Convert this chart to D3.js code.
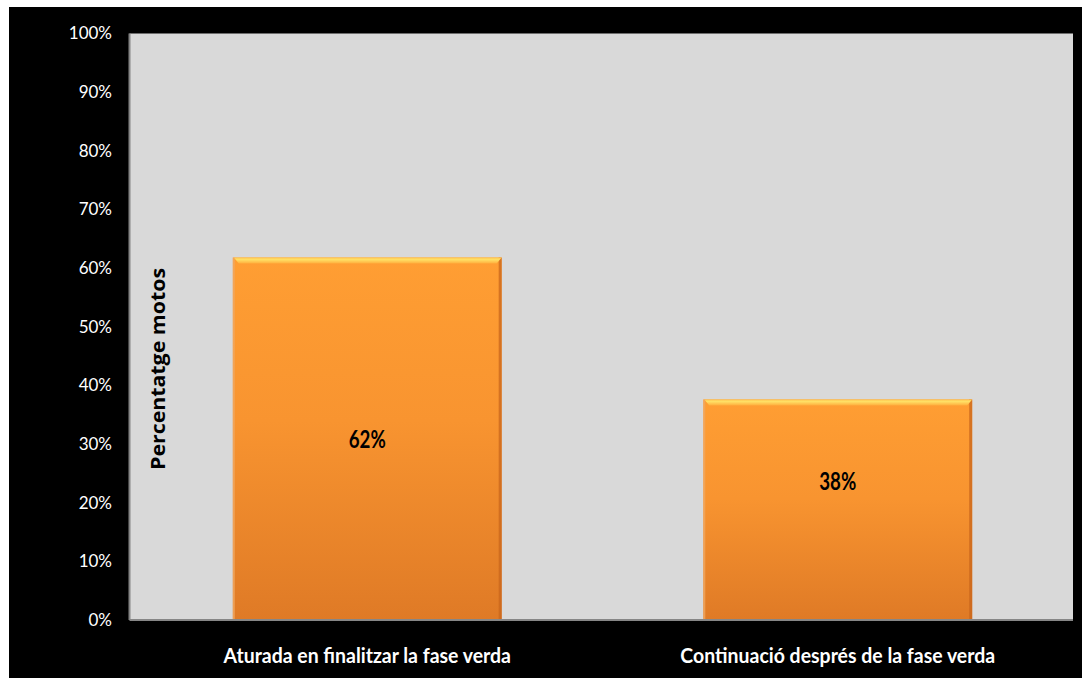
<!DOCTYPE html>
<html><head><meta charset="utf-8">
<script src="https://cdn.jsdelivr.net/npm/d3@7"></script>
<style>html,body{margin:0;padding:0;background:#fff;}svg{display:block;}</style>
</head><body>
<script>
const categories = ["Aturada en finalitzar la fase verda", "Continuació després de la fase verda"];
const values = [61.8, 37.6];
const valueLabels = ["62%", "38%"];
const labelAnchors = [30.7, 23.6];  // value-axis position of each data label
const yTicks = [0, 10, 20, 30, 40, 50, 60, 70, 80, 90, 100];
const yTitle = "Percentatge motos";

const W = 1082, H = 678;
const svg = d3.select("body").append("svg").attr("width", W).attr("height", H);
svg.append("rect").attr("x", 9).attr("y", 7).attr("width", W - 9).attr("height", H - 7).attr("fill", "#000");

const m = {left: 129.5, top: 33.5, right: 1073, bottom: 620};
const x = d3.scaleBand().domain(categories).range([132, m.right])
  .paddingInner(0.75 / 1.75).paddingOuter(0.375 / 1.75);
const y = d3.scaleLinear().domain([0, 100]).range([m.bottom, m.top]);

svg.append("rect").attr("x", m.left).attr("y", m.top).attr("width", m.right - m.left)
  .attr("height", m.bottom - m.top).attr("fill", "#d9d9d9");

const defs = svg.append("defs");
const g1 = defs.append("linearGradient").attr("id", "barGrad").attr("x1", 0).attr("y1", 0).attr("x2", 0).attr("y2", 1);
g1.append("stop").attr("offset", "0%").attr("stop-color", "#ff9e33");
g1.append("stop").attr("offset", "45%").attr("stop-color", "#f89430");
g1.append("stop").attr("offset", "100%").attr("stop-color", "#df7a26");
const g2 = defs.append("linearGradient").attr("id", "topGrad").attr("x1", 0).attr("y1", 0).attr("x2", 0).attr("y2", 1);
g2.append("stop").attr("offset", "0%").attr("stop-color", "#ffc64f");
g2.append("stop").attr("offset", "35%").attr("stop-color", "#ffe066");
g2.append("stop").attr("offset", "100%").attr("stop-color", "#ffae3d");

const bars = svg.append("g").selectAll("g").data(values).enter().append("g");
bars.append("rect")
  .attr("x", (d, i) => x(categories[i])).attr("y", d => y(d))
  .attr("width", x.bandwidth()).attr("height", d => y(0) - y(d))
  .attr("fill", "url(#barGrad)");
bars.append("rect")
  .attr("x", (d, i) => x(categories[i])).attr("y", d => y(d))
  .attr("width", 2).attr("height", d => y(0) - y(d))
  .attr("fill", "#f0a860").attr("opacity", 0.8);
bars.append("rect")
  .attr("x", (d, i) => x(categories[i]) + x.bandwidth() - 3).attr("y", d => y(d))
  .attr("width", 3).attr("height", d => y(0) - y(d))
  .attr("fill", "#c8661c").attr("opacity", 0.75);
bars.append("path")
  .attr("d", (d, i) => {
    const x0 = x(categories[i]), x1 = x0 + x.bandwidth(), t = y(d);
    return `M${x0 + 1},${t}L${x1},${t}L${x1 - 5},${t + 6}L${x0 + 6},${t + 6}Z`;
  })
  .attr("fill", "url(#topGrad)");

bars.append("text")
  .attr("transform", (d, i) => `translate(${x(categories[i]) + x.bandwidth() / 2},${y(labelAnchors[i])}) scale(0.78,1)`)
  .attr("dy", "0.35em").attr("text-anchor", "middle")
  .attr("font-family", "Lato, sans-serif").attr("font-weight", "bold")
  .attr("font-size", 24).attr("fill", "#000")
  .text((d, i) => valueLabels[i]);

svg.append("line").attr("x1", m.left).attr("x2", m.left).attr("y1", m.top).attr("y2", m.bottom)
  .attr("stroke", "#868686").attr("stroke-width", 2);
svg.append("line").attr("x1", m.left).attr("x2", m.right).attr("y1", m.bottom).attr("y2", m.bottom)
  .attr("stroke", "#868686").attr("stroke-width", 2);

svg.append("g").selectAll("text").data(yTicks).enter().append("text")
  .attr("x", 112).attr("y", d => y(d)).attr("dy", "0.35em")
  .attr("text-anchor", "end").attr("fill", "#fff")
  .attr("font-family", "Lato, sans-serif").attr("font-size", 17)
  .text(d => d + "%");

svg.append("g").selectAll("text").data(categories).enter().append("text")
  .attr("transform", d => `translate(${x(d) + x.bandwidth() / 2},655) scale(0.905,1)`)
  .attr("dy", "0.35em")
  .attr("text-anchor", "middle").attr("fill", "#fff")
  .attr("font-family", "Lato, sans-serif").attr("font-weight", "bold")
  .attr("font-size", 21.5)
  .text(d => d);

svg.append("text")
  .attr("transform", "translate(158,369) rotate(-90)")
  .attr("text-anchor", "middle").attr("dy", "0.35em")
  .attr("font-family", "Open Sans, sans-serif").attr("font-weight", "bold")
  .attr("font-size", 19).attr("fill", "#000")
  .attr("textLength", 202).attr("lengthAdjust", "spacingAndGlyphs")
  .text(yTitle);
</script>
</body></html>
